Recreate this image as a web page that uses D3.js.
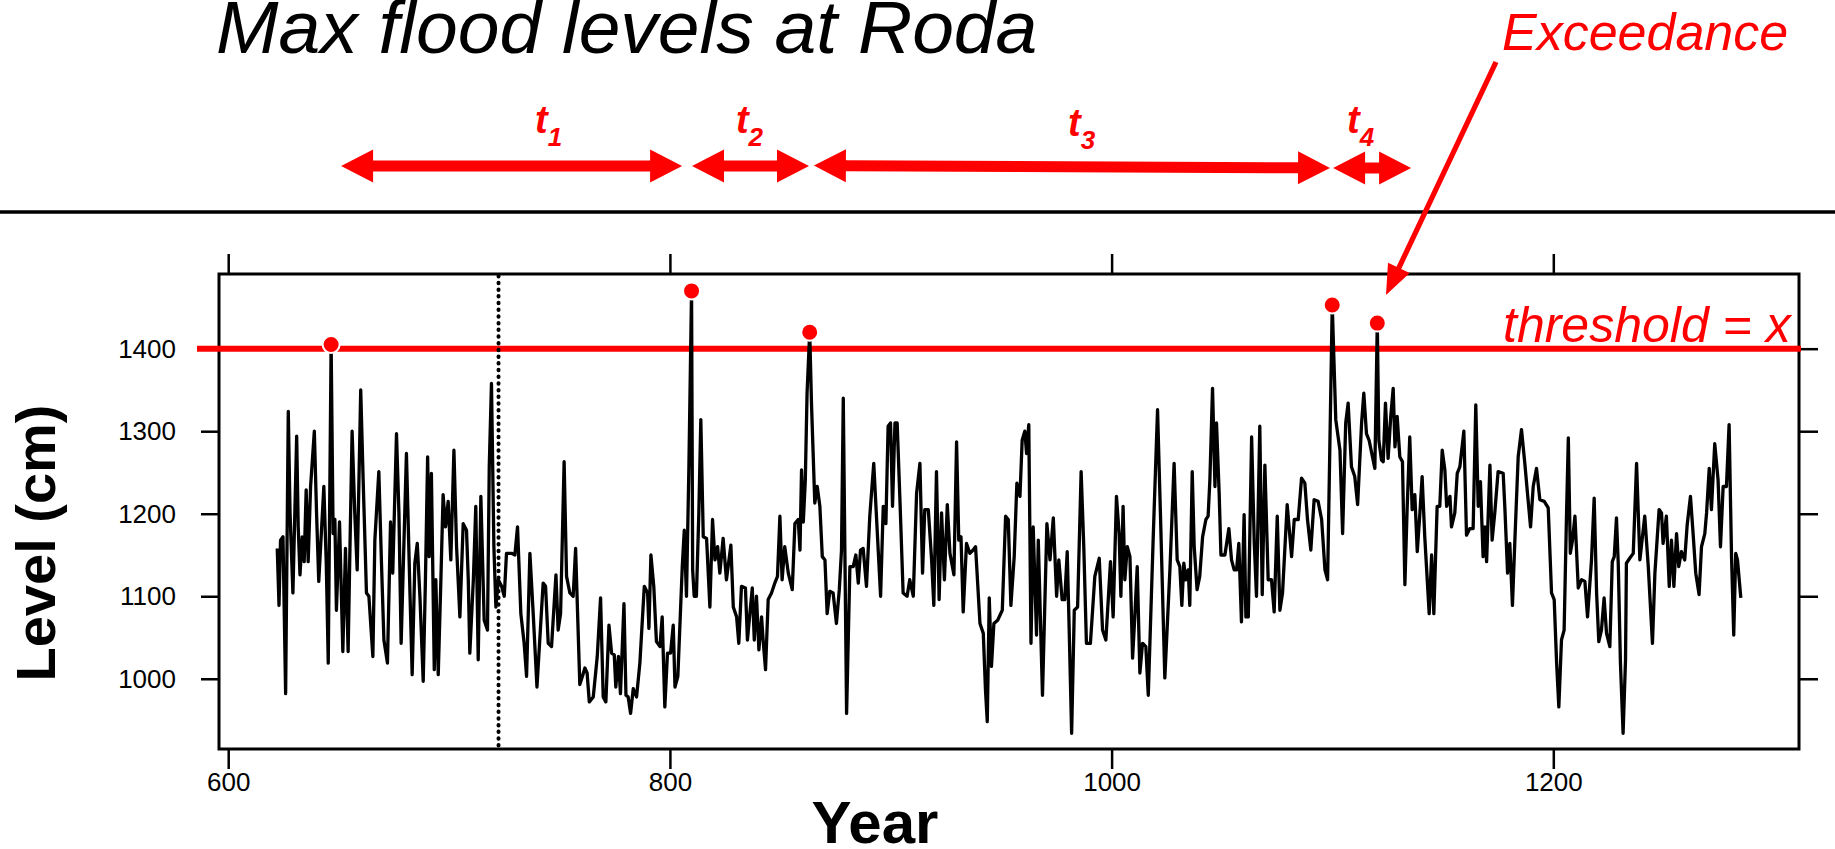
<!DOCTYPE html>
<html><head><meta charset="utf-8">
<script src="https://cdn.jsdelivr.net/npm/d3@7/dist/d3.min.js"></script>
<style>body{margin:0;background:#fff} svg{display:block} text{font-family:"Liberation Sans",Arial,Helvetica,sans-serif}</style>
</head><body><svg id="c" width="1835" height="849"></svg>
<script>
// ---- data ----
const years = [622.2,623,623.7,624.8,626,627.2,628,629.3,631,631.7,632.5,633.5,634.4,635.3,636.2,637.3,639,640,641,642,643.3,644.4,645.3,646.6,647.5,648.3,649,650.4,651.9,653.1,654.3,655,656.1,657.3,658.4,660,661.1,662.6,663.7,665.5,666.4,668.2,669.4,670.5,672.1,673.5,674.5,676.2,677.3,678.3,
680.7,682.3,683.3,684.5,685.6,686.8,688.3,689.3,690.3,691,692,693.3,694,695.1,696.3,697.3,698.4,699.6,700.8,702.2,703.4,704.9,706.4,707.9,708.7,709.4,711,712.1,713.2,714.4,715.9,717.4,718.2,719.2,720.3,721.2,722.3,723.8,725,726,728.3,729.8,731,732.5,734,735.1,736.6,738.1,739.8,
742.6,743.7,744.9,746.4,748.4,749.4,750.5,752.1,753.2,754.7,756.2,757.3,758.2,759.2,760.4,761.5,762.5,763.5,765.3,767.1,768.6,769.8,771,772.4,773.6,774.8,775.5,776.7,777.6,779.2,780.1,781.1,782.2,783.4,784.9,786.4,788.4,789.9,790.5,791.4,792.7,793.9,795.5,796.5,797.7,798.9,800.3,801.5,802.3,
803.6,805.6,806.5,807.5,808.6,809.8,810.3,811,812,813.1,814,815.1,816.6,818.1,819.3,820.4,821.6,822.6,824.1,825.6,827.6,828.7,830.2,831.2,832.4,834.2,835.1,836.2,837.3,838.2,839.2,840.3,841.5,842.2,843.3,844.5,846,847.5,848.7,849.8,850.8,852,853.6,855.4,856.6,858.1,858.9,859.6,860.4,861.3,862.1,863.3,
864.1,865.6,866.7,867.9,869,870.2,871.2,872.4,873.9,875.4,876.7,877.7,878.5,880,881.5,883,884.2,885.3,886.3,887.5,889,890.5,892.3,893.6,895.4,896.6,897.8,898.8,899.9,900.8,901.9,902.9,904.1,905.6,907.4,908.6,910.2,911.7,913.2,914.4,915.4,917,918.5,919.5,920.7,921.9,923,924.3,
925.6,926.8,928.6,929.8,930.8,931.8,932.8,934.3,935.8,937.3,938.4,940.4,941.9,942.9,943.7,944.6,945.6,946.7,948.4,950.5,952,953.2,954.4,955.9,957.1,958.5,959.5,960.7,961.5,962.5,963.5,964.5,966,966.8,968.7,970.7,972.1,973.6,975.1,976.1,977.6,978.8,979.9,980.8,981.9,983.1,984.6,
986.2,987.4,988.6,990.4,992.4,994.4,995.9,997.4,999.5,1000.7,1002.2,1003.4,1004.2,1005.2,1006,1007.1,1008.3,1009.5,1010.5,1011.6,1012.8,1014,1015.5,1016.6,1018.8,1020.8,1022.1,1024.1,1026.4,1028.3,1029.7,1030.9,1031.8,1032.7,1033.6,1034.7,1035.4,1036.5,1037.4,1038.7,1039.9,1041.2,1042.7,1043.7,1044.5,
1045.7,1046.8,1047.5,1048.7,1049.5,1051.3,1053.1,1054.3,1055.5,1056.6,1057.6,1058.8,1060,1060.8,1061.9,1063.4,1064.6,1065.6,1067.1,1068.2,1069.4,1070.9,1072.4,1073.6,1075,1076.2,1077.4,1079.5,1081.5,1082.7,1084.5,1086,1087.5,1088.7,1090.2,1091.7,1093.5,1095.1,1096.6,1097.8,1099.9,1101.5,1103.4,1104.6,1106,1107.1,
1108.6,1110.1,1111.4,1113.2,1114.2,1115.4,1116.6,1118.1,1119.2,1120.3,1121,1122.2,1123,1124,1125.2,1126.4,1127.5,1128.3,1129.3,1130.5,1131.7,1132.8,1133.8,1135,1136.1,1137.3,1138.4,1139.6,1140.6,1141.8,1143.8,1144.9,1145.9,1147.4,1148.6,1149.7,1150.9,1151.7,1153.2,1153.9,1155.4,1156.5,1157.7,1159.5,1160.7,1162.2,1163.7,
1164.9,1166,1167,1168.2,1169,1169.8,1171.3,1172.3,1173.5,1175,1177.3,1178.1,1179.3,1180.3,1181.5,1182.6,1184.1,1185.6,1187.1,1188.3,1189.7,1190.9,1192.4,1193.9,1195.9,1197.7,1199.2,1200.4,1201.5,1202.5,1203.7,1204.9,1206,1206.8,1207.7,1208.7,1209.8,1211.3,1212.8,1214.3,1215.5,1217.3,1218.5,1219.6,1220.6,1221.8,1223,1224.1,1225.6,1226.7,1227.6,1228.6,1229.4,
1230.4,1231.6,1232.7,1233.1,1234.6,1236.2,1237.7,1239.2,1241.4,1243,1244.9,1246,1247.9,1249,1249.7,1251.2,1252.5,1253.5,1254.6,1255.8,1256.8,1258,1259.5,1260.6,1262.1,1263.3,1264.5,1266,1267.1,1268.6,1269.4,1270.6,1271.6,1273.1,1274.6,1275.7,1276.9,1278.4,1279.6,1280.7,1281.7,1282.6,1283.4,1284.9];
const levels = [1158,1089,1168,1172,982,1324,1201,1104,1294,1184,1126,1172,1142,1229,1142,1233,1300,1201,1118,1168,1233,1140,1019,1405,1176,1193,1083,1190,1033,1158,1033,1140,1300,1201,1132,1350,1241,1104,1100,1027,1168,1251,1140,1047,1019,1190,1128,1297,1201,1043,
1273,1104,1005,1140,1164,1100,997,1120,1269,1148,1249,1011,1120,1005,1120,1223,1184,1215,1144,1277,1160,1075,1188,1180,1120,1031,1120,1209,1023,1221,1071,1059,1257,1358,1160,1087,1120,1112,1100,1152,1152,1150,1184,1079,1043,1003,1152,1079,990,
1116,1112,1043,1039,1126,1059,1079,1263,1124,1104,1100,1158,1079,993,1003,1013,1007,972,978,1027,1098,978,972,1065,1031,1029,990,1027,982,1091,980,978,958,988,978,1019,1112,1104,1061,1150,1112,1045,1039,1075,966,1031,1031,1065,990,
1003,1136,1180,1100,1257,1470,1132,1100,1100,1201,1314,1172,1170,1087,1193,1144,1160,1128,1170,1120,1162,1087,1075,1043,1112,1110,1047,1079,1110,1047,1100,1035,1075,1047,1011,1096,1104,1116,1124,1197,1120,1160,1128,1108,1188,1193,1156,1253,1190,1240,1346,1420,
1334,1213,1233,1209,1148,1144,1079,1106,1104,1067,1108,1156,1340,958,1136,1136,1150,1116,1156,1158,1112,1197,1261,1193,1100,1209,1188,1306,1310,1209,1310,1310,1221,1104,1100,1120,1100,1225,1261,1128,1205,1205,1144,1089,1251,1096,1201,1120,
1211,1152,1126,1287,1168,1172,1081,1164,1152,1156,1160,1067,1055,986,948,1098,1015,1067,1071,1083,1197,1193,1089,1148,1237,1221,1289,1300,1273,1308,1043,1184,1053,1168,980,1188,1144,1195,1100,1144,1096,1096,1154,1059,934,1083,1087,
1251,1160,1043,1043,1124,1146,1059,1047,1142,1075,1221,1176,1100,1209,1120,1160,1148,1025,1075,1136,1007,1043,1039,980,1168,1326,1201,1001,1132,1261,1144,1136,1089,1140,1120,1132,1089,1251,1160,1108,1124,1172,1193,1197,1241,
1352,1233,1310,1225,1150,1150,1182,1144,1132,1132,1164,1069,1199,1075,1075,1293,1164,1100,1306,1102,1259,1120,1120,1081,1197,1083,1104,1211,1148,1193,1193,1243,1237,1193,1156,1217,1215,1193,1132,1120,1453,1314,1277,1176,1310,1334,
1257,1245,1211,1310,1346,1297,1289,1269,1255,1431,1289,1265,1263,1334,1267,1318,1352,1281,1318,1269,1263,1114,1205,1293,1205,1223,1154,1201,1245,1172,1079,1150,1079,1209,1209,1277,1253,1209,1221,1184,1201,1249,1257,1300,1174,1182,1182,
1332,1209,1239,1148,1184,1142,1259,1168,1201,1251,1249,1205,1128,1164,1089,1168,1269,1302,1261,1225,1184,1233,1255,1217,1215,1207,1104,1096,1019,966,1047,1059,1201,1292,1152,1168,1197,1110,1120,1118,1075,1144,1219,1104,1045,1059,1098,1055,1039,1142,1148,1195,1140,
1019,934,1023,1140,1146,1152,1261,1144,1197,1136,1043,1128,1205,1201,1164,1197,1112,1168,1112,1176,1136,1154,1144,1186,1221,1176,1128,1102,1160,1176,1201,1255,1205,1285,1241,1160,1233,1233,1308,1148,1053,1152,1144,1098];
const exceedYears  = [646.6, 809.8, 863.3, 1099.9, 1120.3];
const exceedLevels = [1405, 1470, 1420, 1453, 1431];
const threshold = 1400;
const breakYear = 722.4;
const xTicks = [600, 800, 1000, 1200];
const yTicks = [1000, 1100, 1200, 1300, 1400];
const intervalNames  = ["1", "2", "3", "4"];
const intervalStarts = [651.1, 810.0, 865.2, 1100.3];
const intervalEnds   = [805.5, 863.0, 1098.9, 1135.6];
const intervalLabelYears = [738.9, 829.9, 980.3, 1106.6];

// ---- layout ----
const W = 1835, H = 849;
const L = 219, R = 1799, T = 274, B = 749;
const svg = d3.select("#c");
const x = d3.scaleLinear().domain([595.83, 1311.25]).range([L, R]);
const y = d3.scaleLinear().domain([914.9, 1490.5]).range([B, T]);
const red = "#ff0000";

// title
svg.append("text").attr("x", 216).attr("y", 53).attr("font-size", 75).attr("font-style", "italic").attr("fill", "#000").text("Max flood levels at Roda");
svg.append("text").attr("x", 1502).attr("y", 50).attr("font-size", 52).attr("font-style", "italic").attr("fill", red).text("Exceedance");

// separator rule
svg.append("line").attr("x1", 0).attr("x2", W).attr("y1", 212).attr("y2", 212).attr("stroke", "#000").attr("stroke-width", 3.5);

// double arrows
function arrowPath(x1, y1, x2, y2, headL, headH, shaft, both) {
  const dx = x2 - x1, dy = y2 - y1, len = Math.hypot(dx, dy);
  const ux = dx / len, uy = dy / len, nx = -uy, ny = ux;
  const p = (a, b) => [x1 + ux * a + nx * b, y1 + uy * a + ny * b];
  let pts;
  if (both) {
    pts = [p(0,0), p(headL,-headH), p(headL,-shaft), p(len-headL,-shaft), p(len-headL,-headH), p(len,0),
           p(len-headL,headH), p(len-headL,shaft), p(headL,shaft), p(headL,headH)];
  } else {
    pts = [p(0,-shaft), p(len-headL,-shaft), p(len-headL,-headH), p(len,0), p(len-headL,headH), p(len-headL,shaft), p(0,shaft)];
  }
  return "M" + pts.map(q => q[0].toFixed(1) + "," + q[1].toFixed(1)).join("L") + "Z";
}
const arrowY1 = [166, 166, 165.5, 168];
const arrowY2 = [166, 166, 168, 168];
intervalNames.forEach((n, i) => {
  svg.append("path").attr("d", arrowPath(x(intervalStarts[i]), arrowY1[i], x(intervalEnds[i]), arrowY2[i], 32, 16.5, 5.5, true)).attr("fill", red);
  const g = svg.append("text").attr("x", x(intervalLabelYears[i])).attr("y", i === 2 ? 136 : 133)
    .attr("fill", red).attr("font-weight", "bold").attr("font-style", "italic").attr("font-size", 38);
  g.append("tspan").text("t");
  g.append("tspan").attr("font-size", 26).attr("dy", 13).text(n);
});

// frame
svg.append("rect").attr("x", L).attr("y", T).attr("width", R - L).attr("height", B - T)
  .attr("fill", "none").attr("stroke", "#000").attr("stroke-width", 3);

// axes
const tickW = 2.5;
const ax = (g) => { g.select(".domain").remove(); g.selectAll("line").attr("stroke", "#000").attr("stroke-width", tickW);
  g.selectAll("text").attr("font-size", 26).attr("fill", "#000").attr("font-family", '"Liberation Sans",Arial,sans-serif'); };
svg.append("g").attr("transform", `translate(0,${B})`).call(d3.axisBottom(x).tickValues(xTicks).tickFormat(d3.format("d")).tickSize(20).tickPadding(4)).call(ax);
svg.append("g").attr("transform", `translate(0,${T})`).call(d3.axisTop(x).tickValues(xTicks).tickFormat("").tickSize(20)).call(ax);
svg.append("g").attr("transform", `translate(${L},0)`).call(d3.axisLeft(y).tickValues(yTicks).tickFormat(d3.format("d")).tickSize(18).tickPadding(25)).call(ax);
svg.append("g").attr("transform", `translate(${R},0)`).call(d3.axisRight(y).tickValues(yTicks).tickFormat("").tickSize(19)).call(ax);

// axis titles
svg.append("text").attr("x", 875).attr("y", 843).attr("text-anchor", "middle").attr("font-size", 60).attr("font-weight", "bold").text("Year");
svg.append("text").attr("transform", "translate(55,543) rotate(-90)").attr("text-anchor", "middle").attr("font-size", 56).attr("font-weight", "bold").text("Level (cm)");

// threshold
svg.append("line").attr("x1", 197).attr("x2", 1801).attr("y1", y(threshold)).attr("y2", y(threshold)).attr("stroke", red).attr("stroke-width", 6);
svg.append("text").attr("x", 1503).attr("y", 342).attr("font-size", 50).attr("font-style", "italic").attr("fill", red).text("threshold = x");

// break (dotted) line
svg.append("line").attr("x1", x(breakYear)).attr("x2", x(breakYear)).attr("y1", T + 2).attr("y2", B - 2)
  .attr("stroke", "#000").attr("stroke-width", 4).attr("stroke-dasharray", "0.5 6.2").attr("stroke-linecap", "round");

// series
const pts = years.map((yr, i) => [yr, levels[i]]);
svg.append("path").datum(pts)
  .attr("d", d3.line().x(d => x(d[0])).y(d => y(d[1])))
  .attr("fill", "none").attr("stroke", "#000").attr("stroke-width", 3.3).attr("stroke-linejoin", "round");

// exceedance dots
svg.selectAll("circle.ex").data(exceedYears).join("circle").attr("class", "ex")
  .attr("cx", d => x(d)).attr("cy", (d, i) => y(exceedLevels[i])).attr("r", 8.5)
  .attr("fill", red).attr("stroke", "#fff").attr("stroke-width", 2);

// exceedance pointer
svg.append("path").attr("d", arrowPath(1496, 62, 1386, 295, 30, 12, 2.6, false)).attr("fill", red);
</script></body></html>
